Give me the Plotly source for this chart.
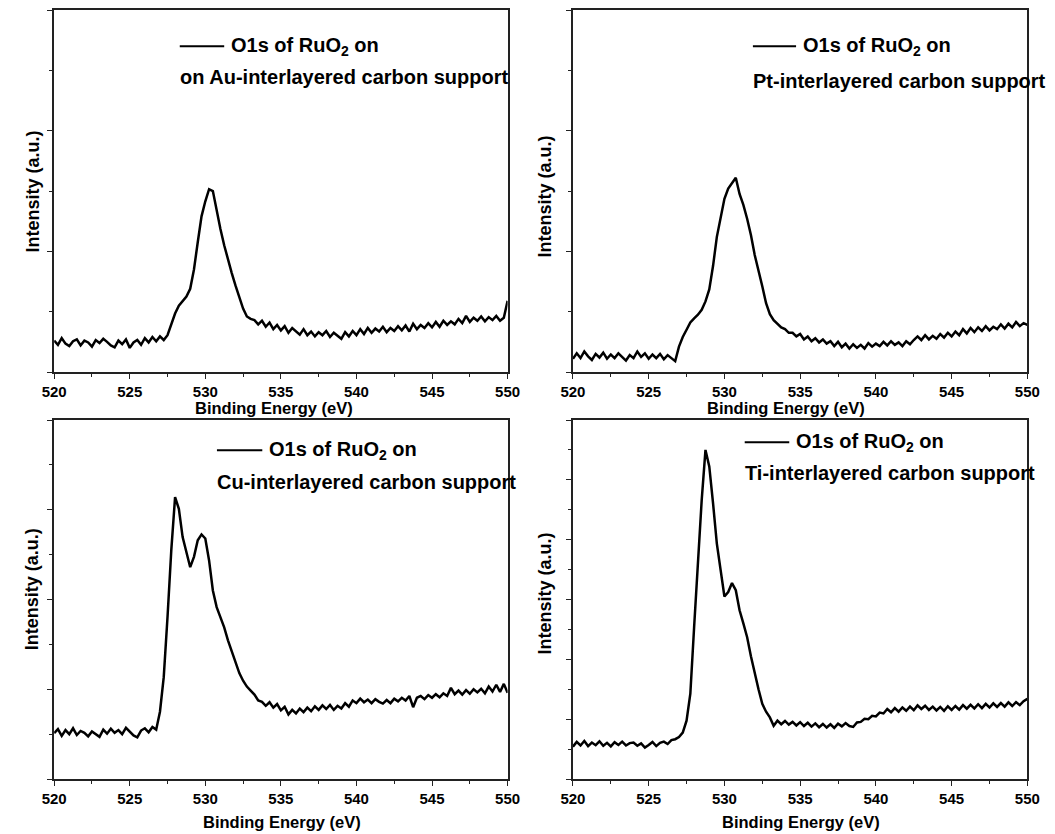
import plotly.graph_objects as go

# Binding energy grid (eV), 0.25 eV steps
energy_ev = [
    520.0, 520.25, 520.5, 520.75, 521.0, 521.25, 521.5, 521.75, 522.0, 522.25, 522.5, 522.75,
    523.0, 523.25, 523.5, 523.75, 524.0, 524.25, 524.5, 524.75, 525.0, 525.25, 525.5, 525.75,
    526.0, 526.25, 526.5, 526.75, 527.0, 527.25, 527.5, 527.75, 528.0, 528.25, 528.5, 528.75,
    529.0, 529.25, 529.5, 529.75, 530.0, 530.25, 530.5, 530.75, 531.0, 531.25, 531.5, 531.75,
    532.0, 532.25, 532.5, 532.75, 533.0, 533.25, 533.5, 533.75, 534.0, 534.25, 534.5, 534.75,
    535.0, 535.25, 535.5, 535.75, 536.0, 536.25, 536.5, 536.75, 537.0, 537.25, 537.5, 537.75,
    538.0, 538.25, 538.5, 538.75, 539.0, 539.25, 539.5, 539.75, 540.0, 540.25, 540.5, 540.75,
    541.0, 541.25, 541.5, 541.75, 542.0, 542.25, 542.5, 542.75, 543.0, 543.25, 543.5, 543.75,
    544.0, 544.25, 544.5, 544.75, 545.0, 545.25, 545.5, 545.75, 546.0, 546.25, 546.5, 546.75,
    547.0, 547.25, 547.5, 547.75, 548.0, 548.25, 548.5, 548.75, 549.0, 549.25, 549.5, 549.75,
    550.0,
]

# O1s intensity (a.u.)
au_intensity = [
    0.52, 0.45, 0.56, 0.47,  0.43, 0.51, 0.54, 0.44,  0.52, 0.49, 0.42, 0.53,
    0.48, 0.55, 0.50, 0.44,  0.41, 0.52, 0.46, 0.54,  0.40, 0.49, 0.53, 0.45,
    0.56, 0.49, 0.58, 0.51,  0.59, 0.53, 0.61, 0.78,  0.97, 1.10, 1.17, 1.25,
    1.38, 1.70, 2.15, 2.58,  2.83, 3.03, 3.00, 2.66,  2.37, 2.10, 1.85, 1.64,
    1.43, 1.25, 1.05, 0.92,  0.88, 0.86, 0.79, 0.85,  0.75, 0.82, 0.71, 0.78,
    0.69, 0.76, 0.65, 0.73,  0.67, 0.62, 0.71, 0.61,  0.67, 0.59, 0.66, 0.61,
    0.68, 0.58, 0.65, 0.60,  0.55, 0.66, 0.59, 0.68,  0.61, 0.71, 0.63, 0.73,
    0.65, 0.72, 0.67, 0.75,  0.66, 0.73, 0.68, 0.76,  0.69, 0.77, 0.67, 0.80,
    0.71, 0.78, 0.73, 0.81,  0.74, 0.83, 0.75, 0.85,  0.78, 0.84, 0.79, 0.88,
    0.81, 0.93, 0.83, 0.90,  0.85, 0.92, 0.84, 0.91,  0.86, 0.93, 0.85, 0.90,
    1.18,
]

pt_intensity = [
    0.22, 0.31, 0.23, 0.34,  0.26, 0.20, 0.30, 0.24,  0.32, 0.22, 0.29, 0.23,
    0.31, 0.25, 0.19, 0.28,  0.23, 0.34, 0.25, 0.31,  0.22, 0.29, 0.23, 0.30,
    0.21, 0.28, 0.23, 0.18,  0.42, 0.58, 0.70, 0.82,  0.89, 0.95, 1.03, 1.17,
    1.37, 1.76, 2.24, 2.59,  2.87, 3.04, 3.13, 3.22,  2.95, 2.77, 2.54, 2.27,
    1.94, 1.70, 1.42, 1.14,  0.96, 0.86, 0.80, 0.74,  0.71, 0.65, 0.65, 0.59,
    0.63, 0.54, 0.59, 0.51,  0.56, 0.49, 0.54, 0.47,  0.51, 0.43, 0.50, 0.41,
    0.47, 0.39, 0.46, 0.40,  0.45, 0.39, 0.48, 0.42,  0.47, 0.43, 0.50, 0.44,
    0.51, 0.45, 0.49, 0.43,  0.51, 0.46, 0.53, 0.59,  0.53, 0.61, 0.54, 0.60,
    0.55, 0.63, 0.57, 0.65,  0.59, 0.67, 0.61, 0.71,  0.64, 0.73, 0.66, 0.74,
    0.68, 0.76, 0.69, 0.75,  0.71, 0.79, 0.72, 0.80,  0.74, 0.83, 0.76, 0.81,
    0.78,
]

cu_intensity = [
    1.02, 1.11, 0.96, 1.09,  1.00, 1.13, 0.98, 1.07,  1.03, 0.95, 1.06, 0.99,
    0.94, 1.10, 1.01, 1.12,  1.03, 1.09, 1.00, 1.14,  1.05, 0.97, 0.93, 1.08,
    1.13, 1.04, 1.16, 1.10,  1.50, 2.27, 3.61, 5.10,  6.28, 6.02, 5.39, 5.02,
    4.72, 4.95, 5.32, 5.45,  5.36, 4.87, 4.20, 3.83,  3.61, 3.38, 3.09, 2.84,
    2.57, 2.36, 2.19, 2.06,  1.97, 1.88, 1.75, 1.72,  1.63, 1.71, 1.59, 1.67,
    1.53, 1.61, 1.44, 1.54,  1.46, 1.57, 1.49, 1.59,  1.51, 1.62, 1.54, 1.64,
    1.56, 1.65, 1.54, 1.63,  1.57, 1.69, 1.61, 1.75,  1.69, 1.79, 1.71, 1.77,
    1.69, 1.78, 1.72, 1.68,  1.76, 1.69, 1.79, 1.73,  1.81, 1.75, 1.85, 1.60,
    1.81, 1.85, 1.78, 1.87,  1.81, 1.89, 1.82, 1.91,  1.85, 2.03, 1.89, 1.97,
    1.88, 1.98, 1.90, 2.00,  1.93, 2.01, 1.91, 2.06,  1.95, 2.10, 1.94, 2.12,
    1.92,
]

ti_intensity = [
    1.08, 1.24, 1.12, 1.27,  1.10, 1.22, 1.13, 1.26,  1.11, 1.21, 1.09, 1.23,
    1.14, 1.25, 1.12, 1.20,  1.22, 1.11, 1.19, 1.05,  1.14, 1.24, 1.10, 1.21,
    1.25, 1.17, 1.30, 1.33,  1.40, 1.55, 1.95, 2.85,  5.08, 7.31, 9.32, 11.0,
    10.45, 9.21, 7.87, 6.98,  6.10, 6.25, 6.55, 6.31,  5.64, 5.20, 4.74, 4.10,
    3.52, 3.00, 2.51, 2.25,  2.06, 1.78, 1.95, 1.83,  1.94, 1.82, 1.91, 1.79,
    1.90, 1.77, 1.88, 1.75,  1.86, 1.73, 1.84, 1.72,  1.83, 1.71, 1.85, 1.76,
    1.87, 1.77, 1.74, 1.89,  1.91, 2.01, 2.00, 2.11,  2.09, 2.22, 2.19, 2.34,
    2.23, 2.37, 2.25, 2.39,  2.28, 2.42, 2.30, 2.46,  2.34, 2.45, 2.31, 2.42,
    2.29, 2.41, 2.28, 2.43,  2.31, 2.44, 2.32, 2.47,  2.35, 2.48, 2.36, 2.50,
    2.37, 2.51, 2.39, 2.53,  2.41, 2.54, 2.42, 2.56,  2.44, 2.57, 2.47, 2.60,
    2.68,
]

panel_series = [au_intensity, pt_intensity, cu_intensity, ti_intensity]
panel_second_line = [
    "on Au-interlayered carbon support",
    "Pt-interlayered carbon support",
    "Cu-interlayered carbon support",
    "Ti-interlayered carbon support",
]
panel_y_max = [6, 6, 8, 12]
x_tick_values = [520, 525, 530, 535, 540, 545, 550]

for s in panel_series:
    assert len(s) == len(energy_ev), len(s)

# page body has an 8px margin, so the figure is drawn 8px in from the top-left corner
OFF = 8
W, H = 1055 - OFF, 834 - OFF
FONT = "Liberation Sans, Arial, sans-serif"

# pixel boxes (screen coords) of the four plot areas: (left, right, top, bottom)
boxes = [(42, 507, 10, 372), (574, 1040, 10, 372), (42, 507, 420, 779), (574, 1040, 420, 779)]

# legend placement (domain fractions): line x0, x1, y ; text2 y
legend_pos = [
    (0.277, 0.375, 0.900, 0.814),
    (0.396, 0.491, 0.900, 0.805),
    (0.359, 0.459, 0.916, 0.828),
    (0.378, 0.476, 0.938, 0.851),
]
xtitle_pos = [(0.484, -0.100), (0.468, -0.100), (0.503, -0.121), (0.501, -0.121)]
ytitle_pos = [(-0.047, 0.498), (-0.062, 0.484), (-0.050, 0.530), (-0.062, 0.516)]

fig = go.Figure()
layout = dict(
    width=W, height=H,
    margin=dict(l=0, r=0, t=0, b=0),
    paper_bgcolor="white", plot_bgcolor="white",
    showlegend=False,
    font=dict(family=FONT, color="black"),
)
annotations = []
shapes = []

for i, (series, box) in enumerate(zip(panel_series, boxes)):
    n = i + 1
    xa = "xaxis" if n == 1 else f"xaxis{n}"
    ya = "yaxis" if n == 1 else f"yaxis{n}"
    xr = "x" if n == 1 else f"x{n}"
    yr = "y" if n == 1 else f"y{n}"
    l, r, t, b = [v - OFF for v in box]
    fig.add_trace(go.Scatter(
        x=energy_ev, y=series, mode="lines",
        line=dict(color="black", width=2.5),
        xaxis=xr, yaxis=yr, showlegend=False,
    ))
    layout[xa] = dict(
        domain=[l / W, r / W], anchor=yr,
        range=[520, 550], tickvals=x_tick_values,
        ticks="outside", ticklen=5, tickwidth=1.3, tickcolor="#222",
        minor=dict(dtick=2.5, tick0=520, ticks="outside", ticklen=3, tickwidth=1.2, tickcolor="#222"),
        showline=True, linecolor="#222", linewidth=1.5, mirror=True,
        showgrid=False, zeroline=False,
        tickfont=dict(family=FONT, size=15, color="black", weight="bold"),
    )
    layout[ya] = dict(
        domain=[1 - b / H, 1 - t / H], anchor=xr,
        range=[0, panel_y_max[i]], tick0=0, dtick=2,
        ticks="outside", ticklen=5, tickwidth=1.3, tickcolor="#222",
        minor=dict(dtick=1, tick0=0, ticks="outside", ticklen=3, tickwidth=1.2, tickcolor="#222"),
        showticklabels=False,
        showline=True, linecolor="#222", linewidth=1.5, mirror=True,
        showgrid=False, zeroline=False,
    )
    lx0, lx1, ly, ty2 = legend_pos[i]
    shapes.append(dict(type="line", xref=f"{xr} domain", yref=f"{yr} domain",
                       x0=lx0, x1=lx1, y0=ly, y1=ly, line=dict(color="black", width=2)))
    annotations.append(dict(text="<b>O1s of RuO<sub>2</sub> on</b>", xref=f"{xr} domain", yref=f"{yr} domain",
                            x=lx1 + 0.010, y=ly, xanchor="left", yanchor="middle", showarrow=False,
                            font=dict(family=FONT, size=20, color="black")))
    annotations.append(dict(text=f"<b>{panel_second_line[i]}</b>", xref=f"{xr} domain", yref=f"{yr} domain",
                            x=lx0 - 0.004, y=ty2, xanchor="left", yanchor="middle", showarrow=False,
                            font=dict(family=FONT, size=20, color="black")))
    tx, tyy = xtitle_pos[i]
    annotations.append(dict(text="<b>Binding Energy (eV)</b>", xref=f"{xr} domain", yref=f"{yr} domain",
                            x=tx, y=tyy, xanchor="center", yanchor="middle", showarrow=False,
                            font=dict(family=FONT, size=16.5, color="black")))
    yx, yy = ytitle_pos[i]
    annotations.append(dict(text="<b>Intensity (a.u.)</b>", xref=f"{xr} domain", yref=f"{yr} domain",
                            x=yx, y=yy, xanchor="center", yanchor="middle", textangle=-90, showarrow=False,
                            font=dict(family=FONT, size=18, color="black")))

layout["annotations"] = annotations
layout["shapes"] = shapes
fig.update_layout(**layout)
fig.write_html("out.html")
